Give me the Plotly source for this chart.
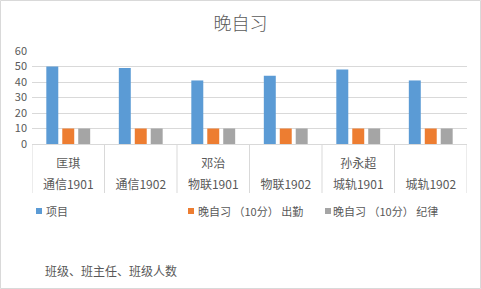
import plotly.graph_objects as go

# ---- data ----
teachers = ["匡琪", "", "邓治", "", "孙永超", ""]
classes = ["通信1901", "通信1902", "物联1901", "物联1902", "城轨1901", "城轨1902"]
series_names = ["项目", "晚自习 （10分） 出勤", "晚自习 （10分） 纪律"]
xiangmu = [50, 49, 41, 44, 48, 41]
chuqin = [10, 10, 10, 10, 10, 10]
jilv = [10, 10, 10, 10, 10, 10]
colors = ["#5B9BD5", "#ED7D31", "#A5A5A5"]
y_ticks = [0, 10, 20, 30, 40, 50, 60]

W, H = 481, 289
L, R, T, B = 32, 14, 51, 145
PW, PH = W - L - R, H - T - B

FONT = "Noto Sans CJK SC, Noto Sans, sans-serif"
GREY = "#595959"
LINE = "#D9D9D9"


def px_x(px):
    return (px - L) / PW


def px_y(py):
    return (T + PH - py) / PH


fig = go.Figure()
for name, vals, c in zip(series_names, [xiangmu, chuqin, jilv], colors):
    fig.add_trace(go.Bar(x=classes, y=vals, name=name, marker_color=c,
                         marker_line_width=0, showlegend=False))

n = len(classes)
# carrier trace so the second (class-name) axis is drawn
fig.add_trace(go.Scatter(x=list(range(n)), y=[None] * n, xaxis="x2", yaxis="y",
                         mode="markers", showlegend=False, hoverinfo="skip"))

fig.update_layout(
    width=W, height=H,
    margin=dict(l=L, r=R, t=T, b=B, pad=0, autoexpand=False),
    paper_bgcolor="white", plot_bgcolor="white",
    barmode="group", bargap=0.34, bargroupgap=0.25,
    font=dict(family=FONT, size=12, color=GREY),
    title=dict(text="晚自习", x=0.5, xanchor="center", y=1 - 24 / H, yanchor="middle",
               font=dict(family=FONT, size=18, color=GREY, weight=300)),
    showlegend=False,
    xaxis=dict(type="category", categoryorder="array", categoryarray=classes,
               range=[-0.5, n - 0.5],
               tickmode="array", tickvals=classes, ticktext=teachers,
               showline=True, linecolor=LINE, linewidth=1, ticks="",
               tickfont=dict(family=FONT, size=12, color=GREY),
               ticklabelstandoff=9, showgrid=False, fixedrange=True, automargin=False),
    xaxis2=dict(type="linear", overlaying="x", side="bottom", anchor="y",
                range=[-0.5, n - 0.5], tickmode="array",
                tickvals=list(range(n)), ticktext=classes,
                showline=False, ticks="", showgrid=False, zeroline=False,
                tickfont=dict(family=FONT, size=12, color=GREY),
                ticklabelstandoff=32, fixedrange=True, automargin=False),
    yaxis=dict(range=[0, 60], tickvals=y_ticks, showgrid=True, gridcolor=LINE,
               gridwidth=1, zeroline=False, showline=False,
               tickfont=dict(family=FONT, size=11, color=GREY),
               ticklabelstandoff=4, fixedrange=True, automargin=False),
)

# category dividers below the axis
for i in range(n + 1):
    fig.add_shape(type="line", xref="x", yref="paper", x0=i - 0.5, x1=i - 0.5,
                  y0=0, y1=px_y(193), line=dict(color=LINE, width=1))

# legend (Excel style: small square + label)
legend_marker_x = [36, 188, 325]
legend_text_x = [45, 197, 332]
legend_y = 211
for name, c, mx, tx in zip(series_names, colors, legend_marker_x, legend_text_x):
    fig.add_shape(type="rect", xref="paper", yref="paper",
                  x0=px_x(mx), x1=px_x(mx + 6), y0=px_y(legend_y + 3), y1=px_y(legend_y - 3),
                  fillcolor=c, line=dict(width=0))
    fig.add_annotation(text=name, xref="paper", yref="paper", x=px_x(tx), xanchor="left",
                       y=px_y(legend_y), yanchor="middle", showarrow=False,
                       font=dict(family=FONT, size=11, color=GREY), borderpad=0)

fig.add_annotation(text="班级、班主任、班级人数", xref="paper", yref="paper",
                   x=px_x(44), xanchor="left", y=px_y(270), yanchor="middle",
                   showarrow=False, font=dict(family=FONT, size=12, color=GREY), borderpad=0)

# chart border
fig.add_shape(type="rect", xref="paper", yref="paper",
              x0=px_x(0.5), x1=px_x(W - 0.5), y0=px_y(H - 0.5), y1=px_y(0.5),
              line=dict(color=LINE, width=1), layer="below")

fig.write_html("out.html")
